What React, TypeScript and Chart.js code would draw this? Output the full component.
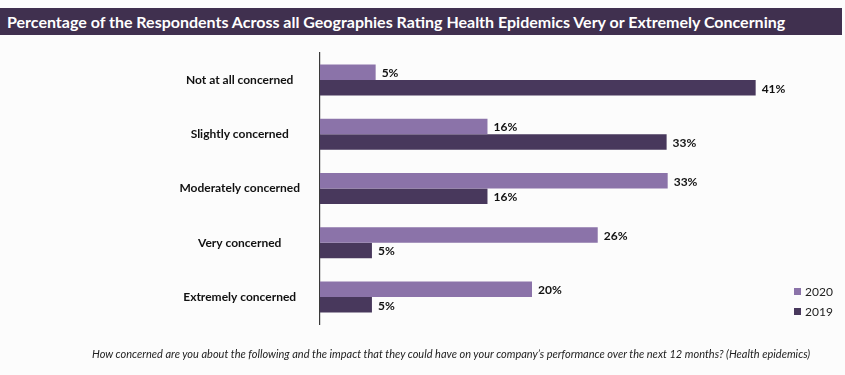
import React, { useEffect, useRef } from "react";
import { Chart, registerables } from "chart.js";

Chart.register(...registerables);

const TITLE = "Percentage of the Respondents Across all Geographies Rating Health Epidemics Very or Extremely Concerning";
const FOOTNOTE = "How concerned are you about the following and the impact that they could have on your company\u2019s performance over the next 12 months? (Health epidemics)";
const categories = ["Not at all concerned", "Slightly concerned", "Moderately concerned", "Very concerned", "Extremely concerned"];
const series2020 = [5.25, 15.8, 32.8, 26.2, 20.0];
const series2019 = [41.1, 32.7, 15.8, 4.9, 4.9];
const seriesNames = ["2020", "2019"];
const colors = ["#8b73a9", "#48385c"];

const FONT = "Lato, 'Open Sans', sans-serif";

const valueLabels = {
  id: "valueLabels",
  afterDatasetsDraw(chart: any) {
    const ctx = chart.ctx;
    ctx.save();
    ctx.font = `bold 12px ${FONT}`;
    ctx.fillStyle = "#111";
    ctx.textAlign = "left";
    ctx.textBaseline = "middle";
    chart.data.datasets.forEach((ds: any, i: number) => {
      const meta = chart.getDatasetMeta(i);
      meta.data.forEach((bar: any, j: number) => {
        ctx.fillText(Math.round(ds.data[j]) + "%", bar.x + 6, bar.y + 1);
      });
    });
    ctx.restore();
  },
};

export default function App() {
  const ref = useRef<HTMLCanvasElement>(null);
  useEffect(() => {
    document.body.style.margin = "0";
    const chart = new Chart(ref.current!, {
      type: "bar",
      data: {
        labels: categories,
        datasets: [
          { label: seriesNames[0], data: series2020, backgroundColor: colors[0], barPercentage: 1, categoryPercentage: 0.572 },
          { label: seriesNames[1], data: series2019, backgroundColor: colors[1], barPercentage: 1, categoryPercentage: 0.572 },
        ],
      },
      options: {
        indexAxis: "y",
        animation: false,
        responsive: false,
        maintainAspectRatio: false,
        layout: { padding: { left: 0, top: 53, bottom: 51, right: 48 } },
        plugins: { legend: { display: false }, tooltip: { enabled: false }, title: { display: false } },
        scales: {
          x: { display: false, min: 0, max: 45 },
          y: {
            afterFit: (s: any) => { s.width = 320; },
            grid: { display: false, drawTicks: false },
            border: { display: true, color: "#3a3a3a", width: 1.2 },
            ticks: {
              crossAlign: "center",
              padding: 20,
              color: "#111",
              font: { family: FONT, weight: "bold", size: 12 },
            },
          },
        },
      },
      plugins: [valueLabels],
    });
    return () => chart.destroy();
  }, []);

  return (
    <div style={{ position: "relative", width: 845, height: 375, background: "#fcfcfc", fontFamily: FONT, overflow: "hidden" }}>
      <canvas ref={ref} width={845} height={375} style={{ position: "absolute", left: 0, top: 0 }} />
      <div style={{ position: "absolute", left: 0, top: 8, width: 842, height: 27, background: "#40304f", color: "#fff", fontWeight: "bold", fontSize: 16, lineHeight: "27px", paddingLeft: 7, boxSizing: "border-box", whiteSpace: "nowrap" }}>
        {TITLE}
      </div>
      {seriesNames.map((n, i) => (
        <div key={n} style={{ position: "absolute", left: 794, top: 284 + i * 20, height: 14, display: "flex", alignItems: "center", fontSize: 12, color: "#222" }}>
          <span style={{ display: "inline-block", width: 7, height: 7, background: colors[i], marginRight: 4 }} />
          {n}
        </div>
      ))}
      <div style={{ position: "absolute", left: 92, top: 347, fontSize: 11, fontStyle: "italic", color: "#222", whiteSpace: "nowrap" }}>
        {FOOTNOTE}
      </div>
    </div>
  );
}
